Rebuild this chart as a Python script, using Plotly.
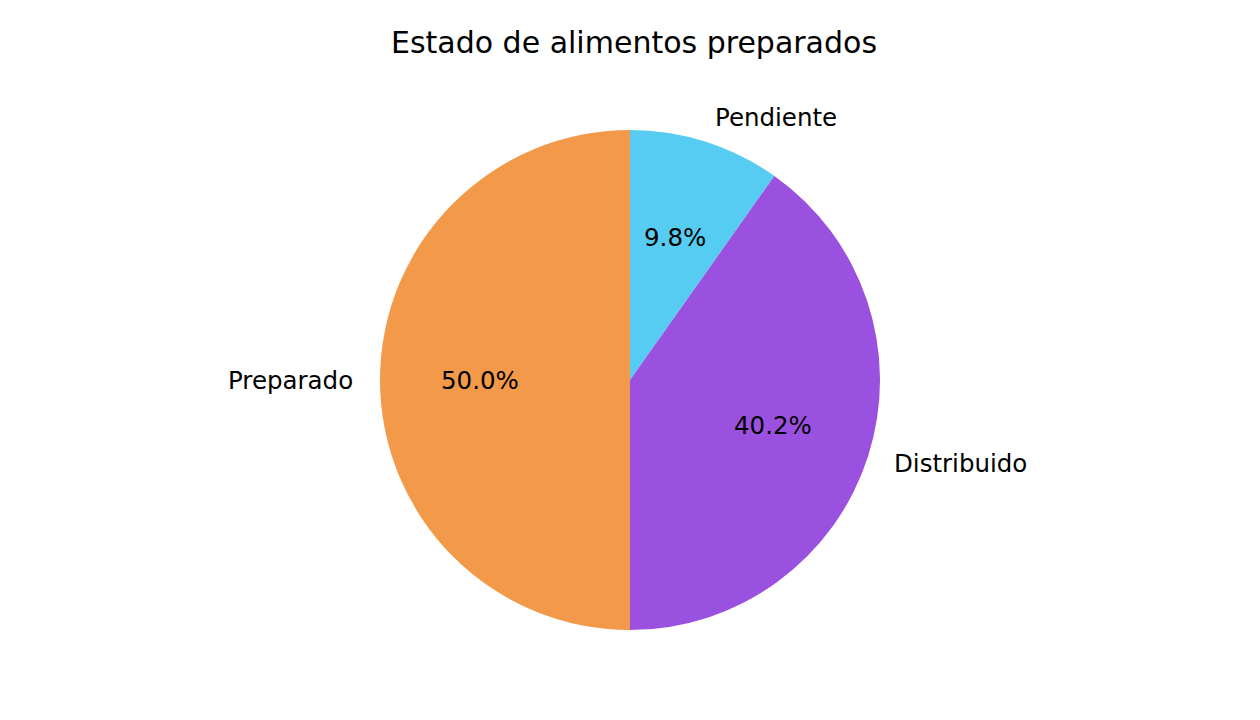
import numpy as np
import plotly.graph_objects as go

# datos del gráfico
estados = ["Pendiente", "Distribuido", "Preparado"]
porcentajes = [9.8, 40.2, 50.0]
colores = ["#56CCF2", "#9B51E0", "#F2994A"]

# la página tiene 8 px de margen en el body, así que se resta
W, H = 1252, 712
cx, cy, R = 622, 372, 250  # centro y radio del pastel en px

fig = go.Figure()

fig.add_trace(go.Pie(
    labels=estados, values=porcentajes, sort=False, direction="clockwise",
    rotation=0, marker=dict(colors=colores, line=dict(width=0)),
    textinfo="none", hoverinfo="label+percent", showlegend=False,
    domain=dict(x=[(cx - R) / W, (cx + R) / W], y=[(H - cy - R) / H, (H - cy + R) / H]),
))

# ángulos medios de cada porción (empezando arriba, sentido horario)
total = sum(porcentajes)
fin = np.cumsum(porcentajes) / total * 360
ini = fin - np.array(porcentajes) / total * 360
medio = np.deg2rad(90 - (ini + fin) / 2)

# porcentajes a 0.6 R y nombres a 1.1 R (anotaciones para quedar encima del pastel)
for nombre, p, a in zip(estados, porcentajes, medio):
    fig.add_annotation(x=0.6 * np.cos(a), y=0.6 * np.sin(a), xref="x", yref="y",
                       text=f"{p:.1f}%", showarrow=False, xanchor="center", yanchor="middle",
                       font=dict(size=24.5, color="black"))
    fig.add_annotation(x=1.1 * np.cos(a), y=1.1 * np.sin(a), xref="x", yref="y",
                       text=nombre, showarrow=False,
                       xanchor="left" if np.cos(a) > 1e-9 else "right", yanchor="middle",
                       font=dict(size=24.5, color="black"))

fig.update_layout(
    width=W, height=H,
    margin=dict(l=0, r=0, t=0, b=0),
    paper_bgcolor="white", plot_bgcolor="white",
    font=dict(family="DejaVu Sans", color="black"),
    title=dict(text="Estado de alimentos preparados", x=0.5, xanchor="center",
               y=1 - 34 / H, yanchor="middle", font=dict(size=30, color="black")),
    xaxis=dict(range=[-cx / R, (W - cx) / R], visible=False, fixedrange=True),
    yaxis=dict(range=[-(H - cy) / R, cy / R], visible=False, fixedrange=True),
)

fig.write_html("out.html")
